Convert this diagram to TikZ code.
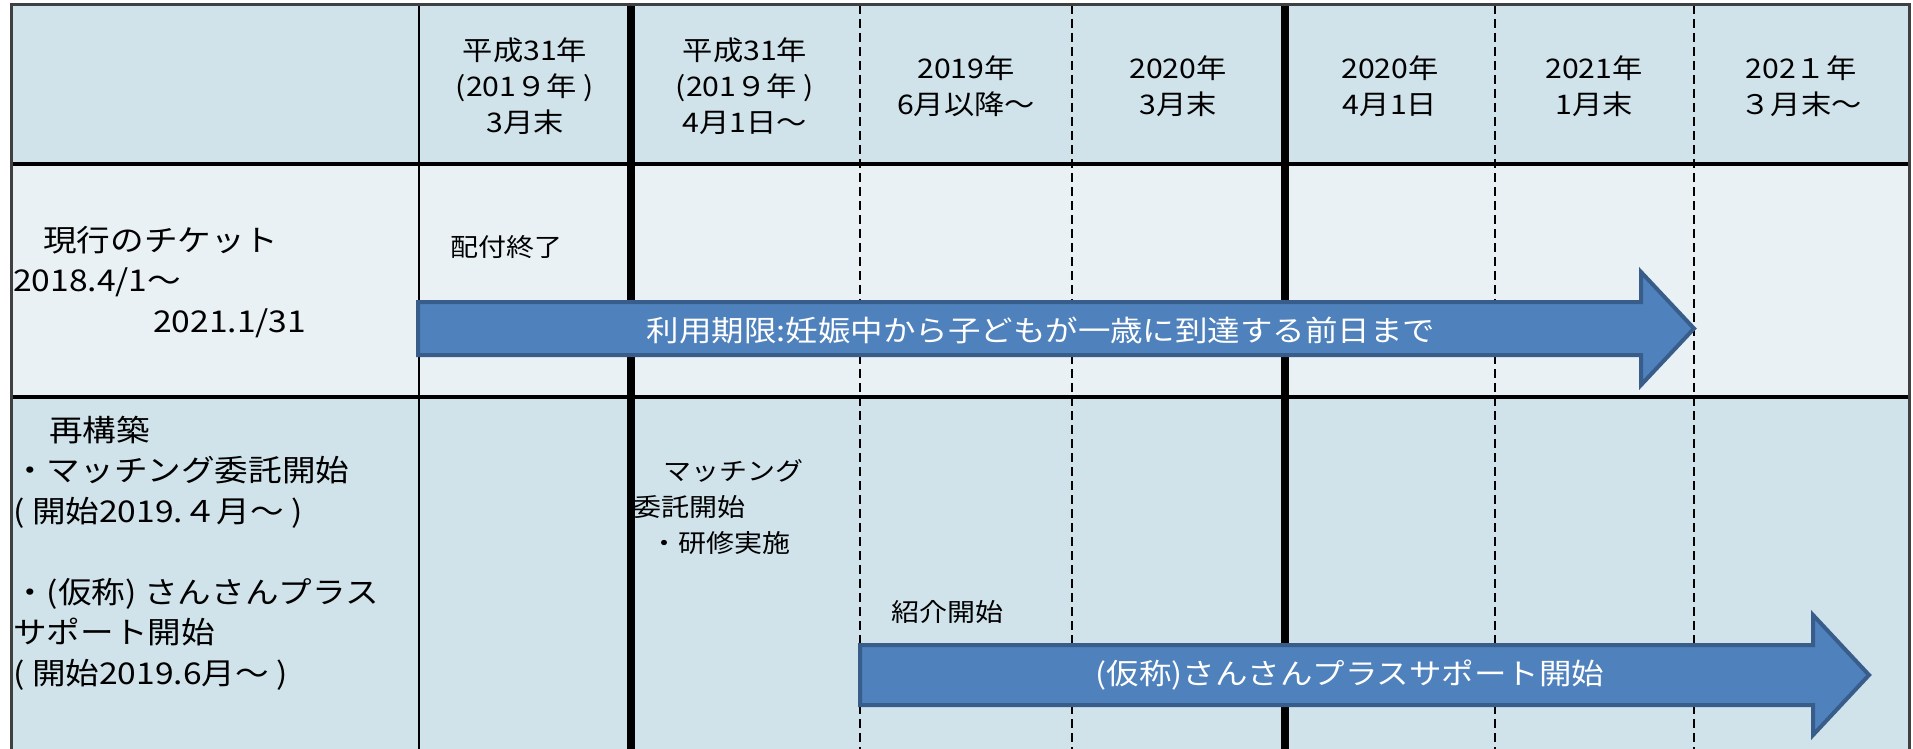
\documentclass[tikz,border=0pt]{standalone}
\usepackage{fontspec}
\setmainfont{Noto Sans CJK JP}[FakeStretch=1.12]
\definecolor{hdblue}{HTML}{D0E3EA}
\definecolor{rowpale}{HTML}{E9F1F5}
\definecolor{barfill}{HTML}{4F81BD}
\definecolor{baredge}{HTML}{385D8A}
\definecolor{rim}{HTML}{404040}
\begin{document}
\begin{tikzpicture}[x=1pt,y=-1pt,
    hd/.style={align=center,font=\fontsize{27}{36}\selectfont},
    lbl/.style={anchor=west,align=left,inner sep=0pt,font=\fontsize{30}{40.5}\selectfont},
    note/.style={anchor=west,align=left,inner sep=0pt,font=\fontsize{25}{36}\selectfont},
    bar/.style={fill=barfill,draw=baredge,line width=4pt,line join=miter},
    bartext/.style={text=white,font=\fontsize{29}{34}\selectfont},
    dashline/.style={line width=2pt,dash pattern=on 9pt off 5pt}]
        \useasboundingbox (0,0) rectangle (1913,749);
        \fill[hdblue] (11,5) rectangle (1909,164);
        \fill[rowpale] (11,164) rectangle (1909,397);
        \fill[hdblue] (11,397) rectangle (1909,749);
        \draw[dashline] (860,5) -- (860,749);
        \draw[dashline] (1072,5) -- (1072,749);
        \draw[dashline] (1495,5) -- (1495,749);
        \draw[dashline] (1694,5) -- (1694,749);
        \draw[line width=2pt] (419,5) -- (419,749);
        \draw[line width=8pt] (631,5) -- (631,749);
        \draw[line width=8pt] (1285,5) -- (1285,749);
        \draw[line width=4pt] (11,164) -- (1909,164);
        \draw[line width=4pt] (11,397) -- (1909,397);
        \draw[rim,line width=3pt] (11,749) -- (11,5) -- (1909,5) -- (1909,749);
        \node[hd] (h1) at (525,86) {平成31年\\(201９年 )\\3月末};
        \node[hd] (h2) at (745,86) {平成31年\\(201９年 )\\4月1日～};
        \node[hd] (h3) at (966,86) {2019年\\6月以降～};
        \node[hd] (h4) at (1178,86) {2020年\\3月末};
        \node[hd] (h5) at (1390,86) {2020年\\4月1日};
        \node[hd] (h6) at (1594,86) {2021年\\1月末};
        \node[hd] (h7) at (1801,86) {202１年\\３月末～};
        \node[lbl] (ticket) at (13,282) {\hspace*{30pt}現行のチケット\\2018.4/1～\\\hspace*{140pt}2021.1/31};
        \node[lbl] (rebuild) at (13,553) {\hspace*{36pt}再構築\\・マッチング委託開始\\( 開始2019.４月～ )\\[40.5pt]・(仮称) さんさんプラス\\サポート開始\\( 開始2019.6月～ )};
        \node[note] (endissue) at (450,247) {配付終了};
        \node[note] (entrust) at (633,507) {\hspace*{30pt}マッチング\\委託開始\\\hspace*{17pt}・研修実施};
        \node[note] (intro) at (891,612) {紹介開始};
        \draw[bar] (418,302) -- (1641,302) -- (1641,272) -- (1694,328.5) -- (1641,385) -- (1641,355) -- (418,355) -- cycle;
        \node[bartext] (limit) at (1041,330) {利用期限:妊娠中から子どもが一歳に到達する前日まで};
        \draw[bar] (860,645) -- (1813,645) -- (1813,615) -- (1869,675) -- (1813,735) -- (1813,705) -- (860,705) -- cycle;
        \node[bartext] (plus) at (1350,675) {(仮称)さんさんプラスサポート開始};
    \end{tikzpicture}
\end{document}
